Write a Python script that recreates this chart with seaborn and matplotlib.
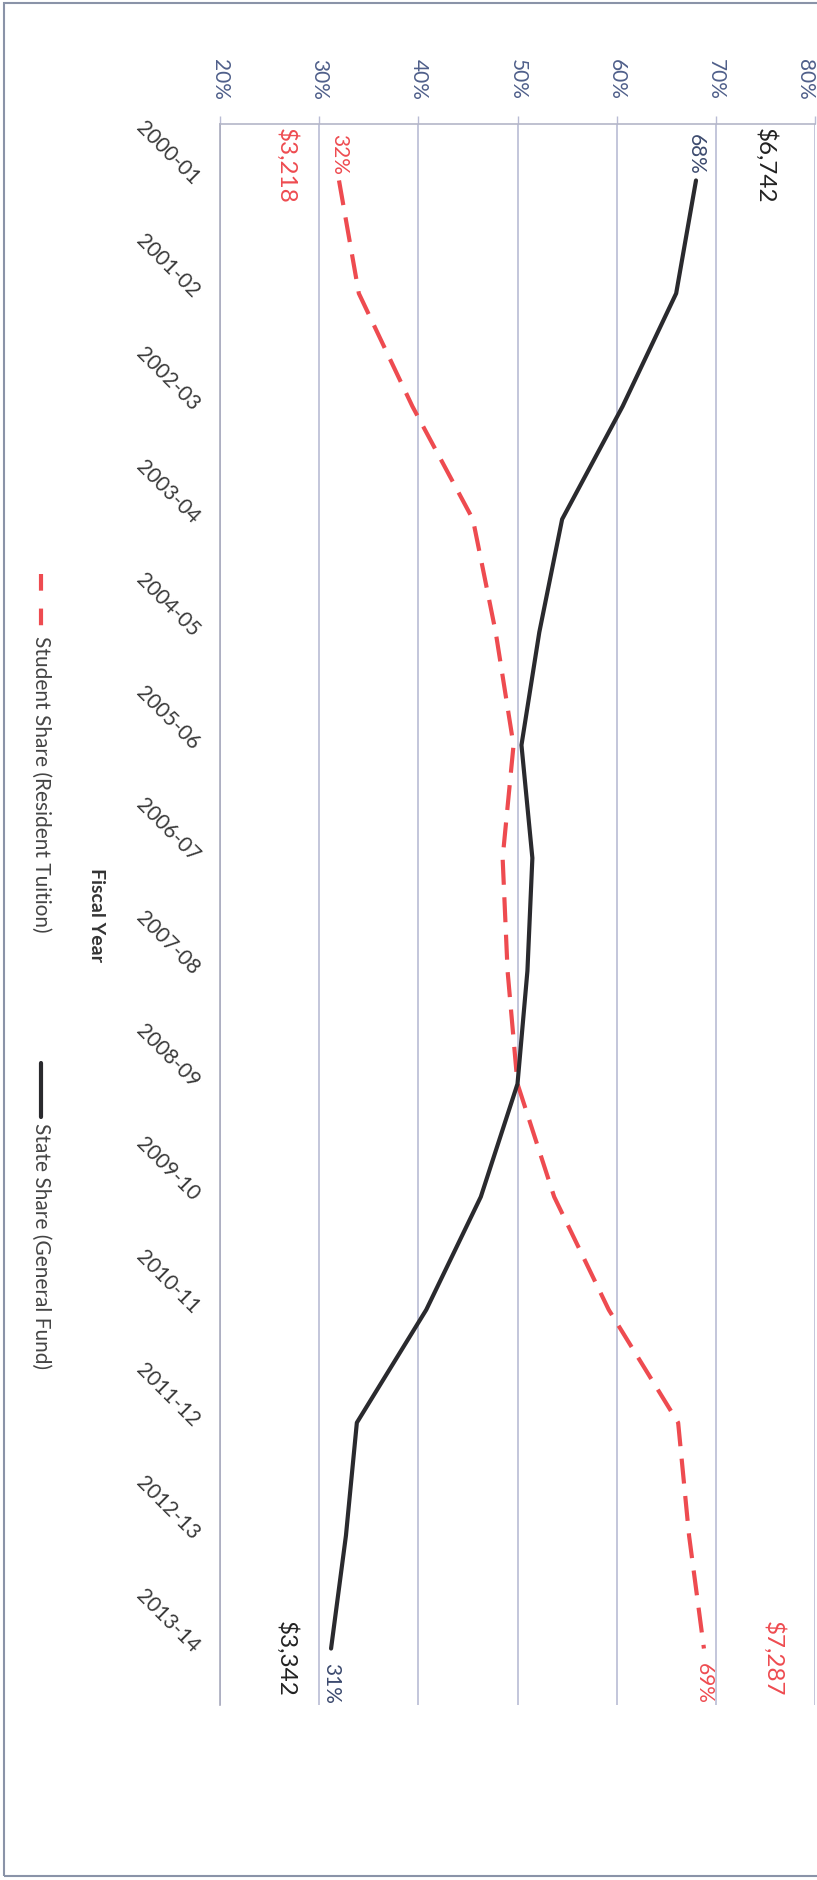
"""
Participação do Estado vs. estudantes no custo por aluno (gráfico girado 90°).
"""
import matplotlib
matplotlib.use("Agg")
import matplotlib.pyplot as plt
from matplotlib.lines import Line2D
from matplotlib.patches import Rectangle
import numpy as np
import pandas as pd
import seaborn as sns

# ── Dados ─────────────────────────────────────────────────────────────────────
YEARS = ["2000-01", "2001-02", "2002-03", "2003-04", "2004-05", "2005-06", "2006-07",
         "2007-08", "2008-09", "2009-10", "2010-11", "2011-12", "2012-13", "2013-14"]
STATE_SHARE   = [68.0, 66.0, 60.6, 54.5, 52.2, 50.4, 51.5, 51.0, 50.0, 46.3, 40.8, 33.8, 32.7, 31.2]
STUDENT_SHARE = [32.0, 34.0, 39.4, 45.5, 47.8, 49.6, 48.5, 49.0, 50.0, 53.7, 59.2, 66.2, 67.3, 68.8]
STATE_DOLLARS   = ["$6,742", "$3,342"]   # primeiro / último ano
STUDENT_DOLLARS = ["$3,218", "$7,287"]
PCT_TICKS = [20, 30, 40, 50, 60, 70, 80]

STUDENT_LABEL = "Student Share (Resident Tuition)"
STATE_LABEL   = "State Share (General Fund)"

# ── Estilo ────────────────────────────────────────────────────────────────────
RED   = "#ee4b50"
BLACK = "#2a2a2e"
GRID  = "#b9bcd4"
TICK_BLUE = "#4f5f8a"

W, H = 817, 1881
sns.set_style("white")
plt.rcParams["font.family"] = ["Lato", "DejaVu Sans"]

fig = plt.figure(figsize=(W / 100, H / 100), dpi=100)
# eixo: 20% em x=220px, 80% em x=815px; categorias de y=125px a y=1706px
ax = fig.add_axes([220 / W, 1 - 1706 / H, 595 / W, (1706 - 125) / H])

df = pd.DataFrame({
    "pos": list(range(len(YEARS))) * 2,
    "share": STUDENT_SHARE + STATE_SHARE,
    "series": [STUDENT_LABEL] * len(YEARS) + [STATE_LABEL] * len(YEARS),
})
sns.lineplot(data=df, x="share", y="pos", hue="series", style="series",
             palette={STUDENT_LABEL: RED, STATE_LABEL: BLACK},
             dashes={STUDENT_LABEL: (6, 3), STATE_LABEL: ""},
             orient="y", sort=False, estimator=None, linewidth=3.0,
             legend=False, ax=ax)

ax.set_xlim(20, 80)
ax.set_ylim(len(YEARS) - 0.5, -0.5)

# eixo percentual (em cima)
ax.xaxis.tick_top()
ax.set_xticks(PCT_TICKS)
ax.set_xticklabels([f"{v}%" for v in PCT_TICKS], rotation=-90, color=TICK_BLUE, fontsize=15)
ax.get_xticklabels()[-1].set_ha("right")   # 80% encostado na borda da imagem
ax.tick_params(axis="x", length=6, width=1, color=GRID, pad=12)
ax.set_xlabel("")
ax.grid(axis="x", color=GRID, linewidth=1.2)
ax.grid(axis="y", visible=False)

# eixo das categorias (esquerda)
ax.set_yticks(range(len(YEARS)))
ax.set_yticklabels(YEARS, fontsize=15, color="#3a3a3a")
ax.set_yticks(np.arange(-0.5, len(YEARS), 1), minor=True)
ax.tick_params(axis="y", which="major", length=0, pad=17)
ax.tick_params(axis="y", which="minor", length=6.5, width=1, color="#a5a5b5", direction="out")
for lbl in ax.get_yticklabels():
    lbl.set_rotation(-45)
    lbl.set_rotation_mode("anchor")
    lbl.set_ha("right")
    lbl.set_va("center")
ax.set_ylabel("Fiscal Year", rotation=-90, fontsize=14, fontweight="bold",
              color="#333333", ha="center", va="center")
ax.yaxis.set_label_coords((96 - 220) / 595, 0.5)

for side in ("bottom", "right"):
    ax.spines[side].set_visible(False)
ax.spines["top"].set_color("#b4b6c8")
ax.spines["left"].set_color("#a9abbd")
for side in ("top", "left"):
    ax.spines[side].set_linewidth(1.2)

# rótulos de início / fim
first, last = 0, len(YEARS) - 1
ax.text(STATE_SHARE[first], first - 0.06, f"{STATE_SHARE[first]:.0f}%", rotation=-90,
        ha="center", va="bottom", fontsize=15, color="#3c4a6e")
ax.text(STUDENT_SHARE[first], first - 0.06, f"{STUDENT_SHARE[first]:.0f}%", rotation=-90,
        ha="center", va="bottom", fontsize=15, color=RED)
ax.text(STATE_SHARE[last], last + 0.12, f"{STATE_SHARE[last]:.0f}%", rotation=-90,
        ha="center", va="top", fontsize=15, color="#3c4a6e")
ax.text(STUDENT_SHARE[last], last + 0.12, f"{STUDENT_SHARE[last]:.0f}%", rotation=-90,
        ha="center", va="top", fontsize=15, color=RED)

ax.text(75.0, first - 0.47, STATE_DOLLARS[0], rotation=-90, ha="center", va="top",
        fontsize=17.5, color="#222222")
ax.text(26.7, first - 0.47, STUDENT_DOLLARS[0], rotation=-90, ha="center", va="top",
        fontsize=17.5, color=RED)
ax.text(26.7, last + 0.42, STATE_DOLLARS[1], rotation=-90, ha="center", va="bottom",
        fontsize=17.5, color="#222222")
ax.text(75.8, last + 0.42, STUDENT_DOLLARS[1], rotation=-90, ha="center", va="bottom",
        fontsize=17.5, color=RED)

# legenda girada (desenhada à mão)
def fy(py):
    return 1 - py / H

fig.add_artist(Line2D([41 / W, 41 / W], [fy(575), fy(628)], color=RED, linewidth=3.0,
                      dashes=(4.0, 4.3), transform=fig.transFigure))
fig.text(41 / W, fy(636), STUDENT_LABEL, rotation=-90, ha="center", va="top",
         fontsize=15, color="#444444")
fig.add_artist(Line2D([41 / W, 41 / W], [fy(1064), fy(1118)], color=BLACK, linewidth=3.0,
                      transform=fig.transFigure))
fig.text(41 / W, fy(1123), STATE_LABEL, rotation=-90, ha="center", va="top",
         fontsize=15, color="#444444")

# moldura do gráfico (borda direita fica fora da imagem)
fig.add_artist(Rectangle((4 / W, fy(1877)), 1.2, fy(4) - fy(1877), fill=False,
                         edgecolor="#8a93a8", linewidth=1.5, transform=fig.transFigure))

fig.savefig("out.png", dpi=100, facecolor="white")
